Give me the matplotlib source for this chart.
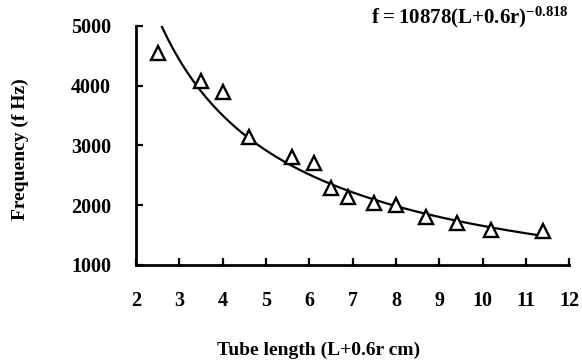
import matplotlib.pyplot as plt
import numpy as np

plt.rcParams['font.family'] = 'Liberation Serif'
plt.rcParams['font.weight'] = 'bold'
plt.rcParams['mathtext.fontset'] = 'custom'
plt.rcParams['mathtext.rm'] = 'Liberation Serif:bold'
plt.rcParams['mathtext.bf'] = 'Liberation Serif:bold'

# measured points (tube length, frequency)
length = [2.5, 3.5, 4.0, 4.6, 5.6, 6.1, 6.5, 6.9, 7.5, 8.0, 8.7, 9.4, 10.2, 11.4]
freq = [4540, 4070, 3900, 3140, 2800, 2710, 2290, 2140, 2030, 2000, 1810, 1700, 1590, 1570]

# power-law fit shown on the chart
fit_a = 10878
fit_b = -0.818
fit_range = [2.56, 11.5]

fig = plt.figure(figsize=(5.82, 3.6), dpi=100)
ax = fig.add_axes([0.234, 0.264, 0.744, 0.664])

xs = np.linspace(fit_range[0], fit_range[1], 200)
ax.plot(xs, fit_a * xs ** fit_b, color='black', lw=1.6)
ax.plot(length, freq, linestyle='none', marker='^', markersize=9.5,
        markerfacecolor='white', markeredgecolor='black', markeredgewidth=1.7)

ax.set_xlim(2, 12)
ax.set_ylim(1000, 5000)
ax.set_xticks(range(2, 13))
ax.set_yticks([1000, 2000, 3000, 4000, 5000])
ax.spines['top'].set_visible(False)
ax.spines['right'].set_visible(False)
ax.spines['left'].set_linewidth(2)
ax.spines['bottom'].set_linewidth(2)
ax.tick_params(direction='in', length=5, width=1.6, labelsize=14.5)
ax.tick_params(axis='x', pad=19)
ax.tick_params(axis='y', pad=18)
for lab in ax.get_xticklabels() + ax.get_yticklabels():
    lab.set_fontweight('bold')

fig.text(0.978, 0.952, r'$\mathbf{f = 10878(L{+}0.6r)^{-0.818}}$', ha='right',
         va='center', fontsize=15)
fig.text(0.547, 0.027, 'Tube length (L+0.6r cm)', ha='center', va='center',
         fontsize=14, fontweight='bold')
fig.text(0.035, 0.585, 'Frequency (f Hz)', ha='center', va='center',
         rotation=90, fontsize=14, fontweight='bold')

fig.savefig('out.png', dpi=100)
